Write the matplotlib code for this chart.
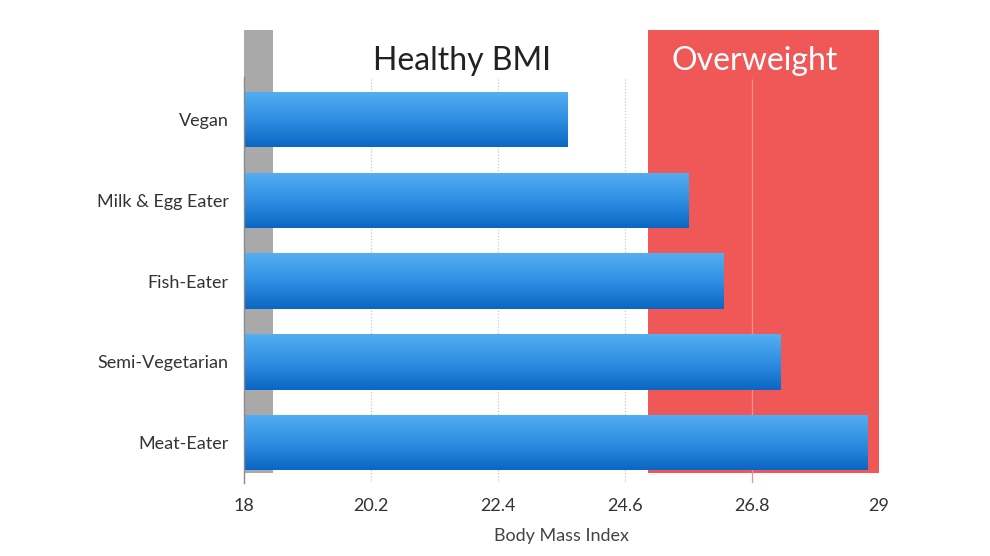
import numpy as np
import matplotlib.pyplot as plt
from matplotlib.colors import LinearSegmentedColormap

plt.rcParams['font.family'] = ['Lato', 'DejaVu Sans']

# datos
categorias = ['Vegan', 'Milk & Egg Eater', 'Fish-Eater', 'Semi-Vegetarian', 'Meat-Eater']
imc = [23.6, 25.7, 26.3, 27.3, 28.8]
ticks_x = [18, 20.2, 22.4, 24.6, 26.8, 29]
zona_bajo = (18, 18.5)
zona_sobrepeso = (25, 29)

fig = plt.figure(figsize=(9.9, 5.56), dpi=100)
ax = fig.add_axes([244 / 990, 1 - 483 / 556, 635 / 990, 453 / 556])

y = np.arange(len(categorias))
alto = 0.69
y_top = -1.11
y_bot = 4.5
y_banda = 4.37

# bandas de fondo
ax.fill_betweenx([y_top, y_banda], zona_bajo[0], zona_bajo[1], color='#a9a9a9', lw=0, zorder=1)
ax.fill_betweenx([y_top, y_banda], zona_sobrepeso[0], zona_sobrepeso[1], color='#f05858', lw=0, zorder=1)

# rejilla punteada
for t in ticks_x[1:-1]:
    color = '#f39090' if t > zona_sobrepeso[0] else '#c8c8c8'
    ls = '-' if t > zona_sobrepeso[0] else (0, (1, 1.5))
    ax.vlines(t, -0.5, 4.5, colors=color, linestyles=ls, lw=0.9, zorder=2)

# barras con degradado
cmap = LinearSegmentedColormap.from_list('azul', ['#55aef2', '#2f8fe3', '#0a66c4'])
grad = np.linspace(0, 1, 256).reshape(-1, 1)
barras = ax.barh(y, [v - 18 for v in imc], left=18, height=alto, color='none', zorder=3)
for b, yi, v in zip(barras, y, imc):
    im = ax.imshow(grad, cmap=cmap, aspect='auto', origin='upper',
                   extent=(18, v, yi + alto / 2, yi - alto / 2), zorder=3)
    im.set_clip_path(b)

ax.set_xlim(18, 29)
ax.set_ylim(y_bot, y_top)
ax.set_yticks(y)
ax.set_yticklabels(categorias, fontsize=13, color='#333333')
ax.set_xticks(ticks_x)
ax.set_xticklabels([f'{t:g}' for t in ticks_x], fontsize=13, color='#333333')
ax.tick_params(length=0, pad=11)
ax.tick_params(axis='y', pad=11)

for s in ['top', 'right', 'bottom']:
    ax.spines[s].set_visible(False)
ax.spines['left'].set_bounds(-0.53, 4.5)
ax.spines['left'].set_color('#8a8a8a')
ax.spines['left'].set_linewidth(1)
ax.spines['left'].set_zorder(4)

ax.set_xlabel('Body Mass Index', fontsize=13, color='#444444', labelpad=10)

ax.text(21.78, -0.73, 'Healthy BMI', fontsize=23, color='#222222', ha='center', va='center', zorder=5)
ax.text(26.85, -0.73, 'Overweight', fontsize=23, color='white', ha='center', va='center', zorder=5)

fig.savefig('out.png', dpi=100)
